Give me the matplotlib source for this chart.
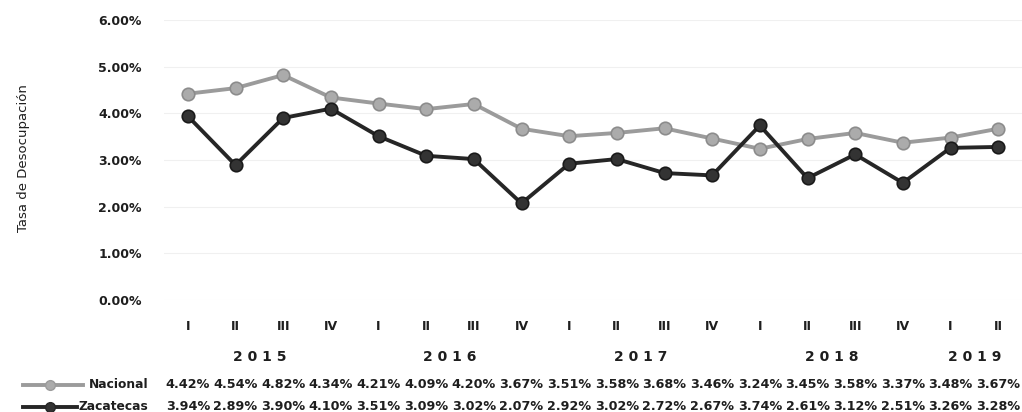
import matplotlib.pyplot as plt
from matplotlib.lines import Line2D

# Data
quarters = ["I", "II", "III", "IV", "I", "II", "III", "IV", "I", "II", "III", "IV",
            "I", "II", "III", "IV", "I", "II"]
years = ["2015", "2016", "2017", "2018", "2019"]
year_pos = [1.5, 5.5, 9.5, 13.5, 16.5]
nacional = [4.42, 4.54, 4.82, 4.34, 4.21, 4.09, 4.20, 3.67, 3.51, 3.58, 3.68, 3.46,
            3.24, 3.45, 3.58, 3.37, 3.48, 3.67]
zacatecas = [3.94, 2.89, 3.90, 4.10, 3.51, 3.09, 3.02, 2.07, 2.92, 3.02, 2.72, 2.67,
             3.74, 2.61, 3.12, 2.51, 3.26, 3.28]

c_nac = "#9b9b9b"
c_zac = "#262626"
c_txt = "#1e1e1e"
W, H = 1022, 412

fig = plt.figure(figsize=(W / 100, H / 100), dpi=100)
ax = fig.add_axes([164 / W, 1 - 300 / H, 858 / W, 280 / H])

x = list(range(len(quarters)))
ax.plot(x, nacional, color=c_nac, lw=2.8, marker="o", ms=9,
        mfc="#ababab", mec="#8c8c8c", mew=1.2, zorder=3)
ax.plot(x, zacatecas, color=c_zac, lw=2.8, marker="o", ms=9,
        mfc="#333333", mec="#1a1a1a", mew=1.2, zorder=4)

ax.set_xlim(-0.5, len(quarters) - 0.5)
ax.set_ylim(0, 6)
ax.set_yticks([0, 1, 2, 3, 4, 5, 6])
ax.set_yticklabels([f"{v:.2f}%" for v in range(7)], fontsize=9,
                   fontweight="bold", color=c_txt)
ax.set_xticks([])
ax.tick_params(axis="y", length=0, pad=16)
for s in ax.spines.values():
    s.set_visible(False)
ax.grid(axis="y", color="#f0f0f0", lw=0.8)

fig.text(24 / W, 1 - 158 / H, "Tasa de Desocupación", rotation=90,
         ha="center", va="center", fontsize=9.5, color=c_txt)

trans = ax.get_xaxis_transform()
for i, q in enumerate(quarters):
    ax.text(i, -0.093, q, transform=trans, ha="center", va="center",
            fontsize=9, fontweight="bold", color=c_txt)
for yr, p in zip(years, year_pos):
    ax.text(p, -0.204, " ".join(yr), transform=trans, ha="center", va="center",
            fontsize=10, fontweight="bold", color=c_txt)

rows = [("Nacional", nacional, c_nac, "#ababab", 385, 83),
        ("Zacatecas", zacatecas, c_zac, "#333333", 407, 77)]
for name, vals, col, mfc, py, line_end in rows:
    yy = (300 - py) / 280
    for i, v in enumerate(vals):
        ax.text(i, yy, f"{v:.2f}%", transform=trans, ha="center", va="center",
                fontsize=9.2, fontweight="bold", color=c_txt)
    fy = 1 - py / H
    fig.text(148 / W, fy, name, ha="right", va="center", fontsize=8.8,
             fontweight="bold", color=c_txt)
    fig.add_artist(Line2D([23 / W, line_end / W], [fy, fy], color=col, lw=2.8,
                          transform=fig.transFigure))
    fig.add_artist(Line2D([50 / W], [fy], color=col, marker="o", ms=7,
                          mfc=mfc, mec=col, transform=fig.transFigure))

fig.savefig("out.png", dpi=100, facecolor="white")
